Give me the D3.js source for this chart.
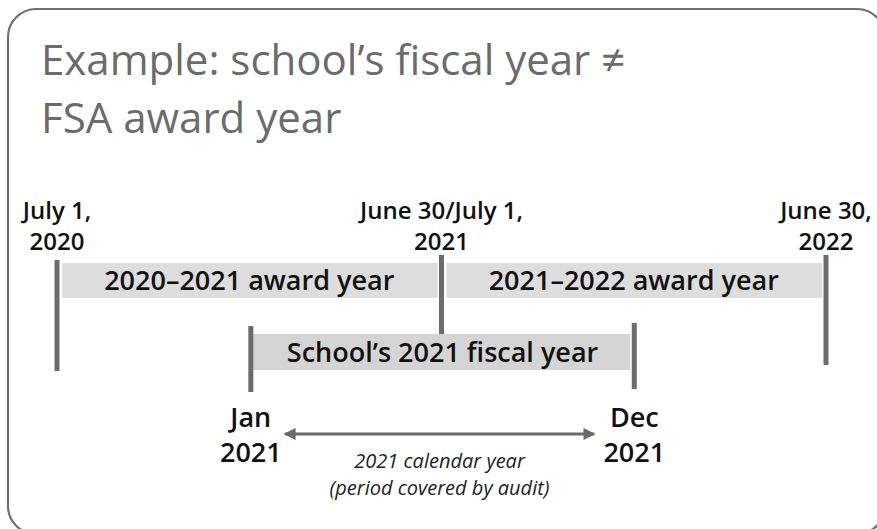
<!DOCTYPE html>
<html>
<head>
<meta charset="utf-8">
<script src="https://cdn.jsdelivr.net/npm/d3@7"></script>
<style>
  body { margin: 0; background: #fff; }
  svg { display: block; }
</style>
</head>
<body>
<svg width="877" height="529"></svg>
<script>
// chart data
var titleLines = ["Example: school\u2019s fiscal year \u2260", "FSA award year"];

var awardLabels = ["2020\u20132021 award year", "2021\u20132022 award year"];
var awardStarts = ["2020-07-01", "2021-07-01"];
var awardEnds = ["2021-07-01", "2022-07-01"];

var fiscalLabel = "School\u2019s 2021 fiscal year";
var fiscalStart = "2021-01-01";
var fiscalEnd = "2021-12-31";

var topDates = ["2020-07-01", "2021-07-01", "2022-07-01"];
var topLabels = [["July 1,", "2020"], ["June 30/July 1,", "2021"], ["June 30,", "2022"]];

var bottomDates = ["2021-01-01", "2021-12-31"];
var bottomLabels = [["Jan", "2021"], ["Dec", "2021"]];

var calendarNote = ["2021 calendar year", "(period covered by audit)"];

var parse = d3.timeParse("%Y-%m-%d");

var svg = d3.select("svg");
var grey = "#6b6b6b";
var font = "'Open Sans', sans-serif";

var x = d3.scaleTime()
    .domain([parse("2020-07-01"), parse("2022-07-01")])
    .range([57, 826]);

// frame
svg.append("rect")
    .attr("x", 8).attr("y", 9)
    .attr("width", 877).attr("height", 525)
    .attr("rx", 28).attr("ry", 28)
    .attr("fill", "none")
    .attr("stroke", "#707070")
    .attr("stroke-width", 2.2);

// title
svg.append("g").selectAll("text").data(titleLines).enter().append("text")
    .attr("x", 41)
    .attr("y", function(d, i) { return 75 + i * 58; })
    .attr("font-family", font)
    .attr("font-size", 42)
    .attr("fill", grey)
    .text(function(d) { return d; });

// award year bars
var awardTop = 263, barH = 35, fiscalTop = 334;
var award = svg.append("g").selectAll("g").data(awardLabels).enter().append("g");
award.append("rect")
    .attr("x", function(d, i) { return x(parse(awardStarts[i])) + 5; })
    .attr("y", awardTop)
    .attr("width", function(d, i) { return x(parse(awardEnds[i])) - x(parse(awardStarts[i])) - 9; })
    .attr("height", barH)
    .attr("fill", "#dddddd");
award.append("text")
    .attr("x", function(d, i) { return (x(parse(awardStarts[i])) + x(parse(awardEnds[i]))) / 2; })
    .attr("y", awardTop + 27)
    .attr("text-anchor", "middle")
    .attr("font-family", font)
    .attr("font-weight", 600)
    .attr("font-size", 27)
    .attr("fill", "#111")
    .text(function(d) { return d; });

// fiscal year bar
svg.append("rect")
    .attr("x", x(parse(fiscalStart)) + 2)
    .attr("y", fiscalTop)
    .attr("width", x(parse(fiscalEnd)) - x(parse(fiscalStart)) - 6)
    .attr("height", barH + 1)
    .attr("fill", "#d4d4d4");
svg.append("text")
    .attr("x", (x(parse(fiscalStart)) + x(parse(fiscalEnd))) / 2)
    .attr("y", fiscalTop + 28)
    .attr("text-anchor", "middle")
    .attr("font-family", font)
    .attr("font-weight", 600)
    .attr("font-size", 27)
    .attr("fill", "#111")
    .text(fiscalLabel);

// top markers
var topY1 = [260, 255, 255], topY2 = [371, 334, 365];
var tops = svg.append("g").selectAll("g").data(topDates).enter().append("g");
tops.append("line")
    .attr("x1", function(d) { return x(parse(d)); })
    .attr("x2", function(d) { return x(parse(d)); })
    .attr("y1", function(d, i) { return topY1[i]; })
    .attr("y2", function(d, i) { return topY2[i]; })
    .attr("stroke", grey)
    .attr("stroke-width", 5);
tops.append("text")
    .attr("text-anchor", "middle")
    .attr("font-family", font)
    .attr("font-weight", 600)
    .attr("font-size", 24)
    .attr("fill", "#111")
    .selectAll("tspan").data(function(d, i) { return topLabels[i].map(function(t) { return {t: t, d: d}; }); })
    .enter().append("tspan")
    .attr("x", function(o) { return x(parse(o.d)); })
    .attr("y", function(o, j) { return 219 + j * 31; })
    .text(function(o) { return o.t; });

// bottom markers
var botY1 = [326, 323], botY2 = [392, 389];
var bots = svg.append("g").selectAll("g").data(bottomDates).enter().append("g");
bots.append("line")
    .attr("x1", function(d) { return x(parse(d)); })
    .attr("x2", function(d) { return x(parse(d)); })
    .attr("y1", function(d, i) { return botY1[i]; })
    .attr("y2", function(d, i) { return botY2[i]; })
    .attr("stroke", grey)
    .attr("stroke-width", 5);
bots.append("text")
    .attr("text-anchor", "middle")
    .attr("font-family", font)
    .attr("font-weight", 600)
    .attr("font-size", 27)
    .attr("fill", "#111")
    .selectAll("tspan").data(function(d, i) { return bottomLabels[i].map(function(t) { return {t: t, d: d}; }); })
    .enter().append("tspan")
    .attr("x", function(o) { return x(parse(o.d)); })
    .attr("y", function(o, j) { return 427 + j * 35; })
    .text(function(o) { return o.t; });

// double arrow for the calendar year
var defs = svg.append("defs");
defs.append("marker")
    .attr("id", "head")
    .attr("viewBox", "0 0 10 10")
    .attr("refX", 9).attr("refY", 5)
    .attr("markerWidth", 4).attr("markerHeight", 4.5)
    .attr("markerUnits", "strokeWidth")
    .attr("orient", "auto-start-reverse")
    .append("path")
    .attr("d", "M0,0L10,5L0,10z")
    .attr("fill", grey);

var ax1 = x(parse(fiscalStart)) + 34, ax2 = x(parse(fiscalEnd)) - 40;
svg.append("line")
    .attr("x1", ax1).attr("x2", ax2)
    .attr("y1", 434).attr("y2", 434)
    .attr("stroke", grey)
    .attr("stroke-width", 3)
    .attr("marker-start", "url(#head)")
    .attr("marker-end", "url(#head)");

svg.append("text")
    .attr("text-anchor", "middle")
    .attr("font-family", font)
    .attr("font-style", "italic")
    .attr("font-size", 20)
    .attr("fill", "#222")
    .selectAll("tspan").data(calendarNote).enter().append("tspan")
    .attr("x", (ax1 + ax2) / 2)
    .attr("y", function(d, j) { return 468 + j * 27; })
    .text(function(d) { return d; });
</script>
</body>
</html>
